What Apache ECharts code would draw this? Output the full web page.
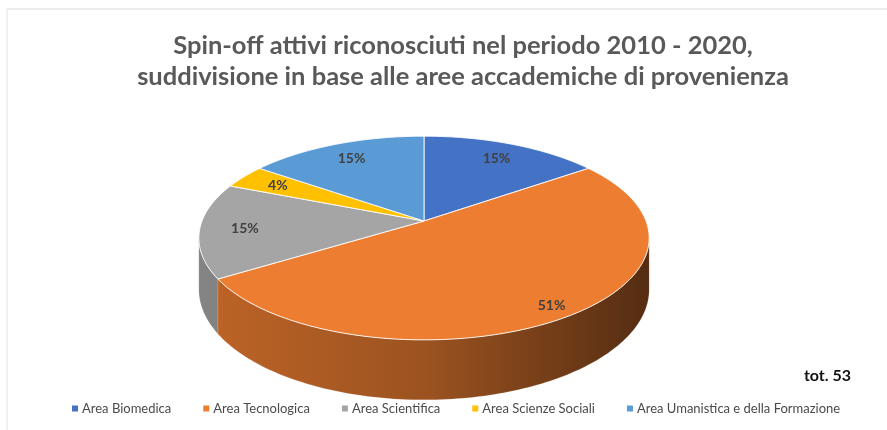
<!DOCTYPE html>
<html>
<head>
<meta charset="utf-8">
<script src="https://cdn.jsdelivr.net/npm/echarts@6/dist/echarts.min.js"></script>
<style>
html, body { margin: 0; padding: 0; background: #fff; }
#chart { width: 887px; height: 430px; }
</style>
</head>
<body>
<div id="chart"></div>
<script>
// dati
const categories = ['Area Biomedica', 'Area Tecnologica', 'Area Scientifica', 'Area Scienze Sociali', 'Area Umanistica e della Formazione'];
const counts = [8, 27, 8, 2, 8];
const colors = ['#4472c4', '#ed7d31', '#a5a5a5', '#ffc000', '#5b9bd5'];
const totalLabel = 'tot. 53';

const total = counts.reduce((a, b) => a + b, 0);
const starts = [];
let acc = 0;
counts.forEach(c => { starts.push(acc); acc += c; });

// geometria della torta 3D (prospettiva semplice)
const CX = 424, CY = 221, A = 99, B = 222, K = 0.167, DEPTH = 50;
const LABEL_R = 0.8;

function proj(phi, f, dz) {
  const u = f * Math.sin(phi), v = f * Math.cos(phi);
  const den = 1 + K * v;
  return [CX + B * u / den, CY - A * v / den + dz / den];
}

function shade(hex, k) {
  const n = parseInt(hex.slice(1), 16);
  const r = Math.round(((n >> 16) & 255) * k);
  const g = Math.round(((n >> 8) & 255) * k);
  const b = Math.round((n & 255) * k);
  return 'rgb(' + r + ',' + g + ',' + b + ')';
}

function arcPoints(a0, a1, f, dz) {
  const pts = [];
  const steps = Math.max(2, Math.ceil((a1 - a0) / 0.02));
  for (let i = 0; i <= steps; i++) {
    pts.push(proj(a0 + (a1 - a0) * i / steps, f, dz));
  }
  return pts;
}

const SIL = Math.acos(-K); // limite visibile del lato

function makeSeries(idx) {
  return {
    type: 'custom',
    name: categories[idx],
    coordinateSystem: 'none',
    itemStyle: { color: colors[idx] },
    data: [[counts[idx]]],
    renderItem: function (params, api) {
      const val = api.value(0);
      const a0 = starts[idx] / total * Math.PI * 2;
      const a1 = a0 + val / total * Math.PI * 2;
      const children = [];
      // lato frontale
      const w0 = Math.max(a0, SIL), w1 = Math.min(a1, Math.PI * 2 - SIL);
      if (w1 > w0) {
        const top = arcPoints(w0, w1, 1, 0);
        const bot = arcPoints(w0, w1, 1, DEPTH).reverse();
        children.push({
          type: 'polygon',
          shape: { points: top.concat(bot) },
          style: {
            fill: {
              type: 'linear', global: true, x: 200, y: 0, x2: 648, y2: 0,
              colorStops: [
                { offset: 0, color: shade(colors[idx], 0.8) },
                { offset: 0.5, color: shade(colors[idx], 0.66) },
                { offset: 1, color: shade(colors[idx], 0.36) }
              ]
            },
            stroke: 'rgba(255,255,255,0.25)', lineWidth: 0.5
          }
        });
      }
      // faccia superiore
      const pts = [proj(0, 0, 0)].concat(arcPoints(a0, a1, 1, 0));
      children.push({
        type: 'polygon',
        shape: { points: pts },
        style: { fill: colors[idx], stroke: 'rgba(255,255,255,0.85)', lineWidth: 1 }
      });
      // etichetta (la fetta grande un po' più verso il bordo)
      const mid = (a0 + a1) / 2;
      const lp = proj(mid, val / total > 0.5 ? 0.9 : LABEL_R, 0);
      children.push({
        type: 'text',
        x: lp[0], y: lp[1],
        style: {
          text: Math.round(val / total * 100) + '%',
          font: 'bold 14px Lato, "Open Sans", sans-serif',
          fill: '#404040', align: 'center', verticalAlign: 'middle'
        }
      });
      return { type: 'group', children: children };
    }
  };
}

const chart = echarts.init(document.getElementById('chart'));
chart.setOption({
  animation: false,
  backgroundColor: '#fff',
  title: {
    text: 'Spin-off attivi riconosciuti nel periodo 2010 - 2020,\nsuddivisione in base alle aree accademiche di provenienza',
    left: 458, top: 25, textAlign: 'center',
    textStyle: {
      fontFamily: 'Lato, "Open Sans", sans-serif',
      fontSize: 25.5, fontWeight: 'bold', color: '#595959', lineHeight: 31
    }
  },
  legend: {
    bottom: 10, left: 67,
    icon: 'rect', itemWidth: 6, itemHeight: 6, itemGap: 32,
    textStyle: { fontFamily: 'Lato, "Open Sans", sans-serif', fontSize: 13, color: '#4a4a4a', padding: [0, 0, 0, -1] },
    data: categories
  },
  graphic: [
    { type: 'line', shape: { x1: 7, y1: 9, x2: 887, y2: 9 }, style: { stroke: '#ececec', lineWidth: 2 } },
    { type: 'line', shape: { x1: 7, y1: 9, x2: 7, y2: 430 }, style: { stroke: '#f0f0f0', lineWidth: 2 } },
    {
      type: 'text', right: 36, top: 368,
      style: { text: totalLabel, font: 'bold 16px Lato, "Open Sans", sans-serif', fill: '#111' }
    }
  ],
  series: categories.map((c, i) => makeSeries(i))
});
</script>
</body>
</html>
